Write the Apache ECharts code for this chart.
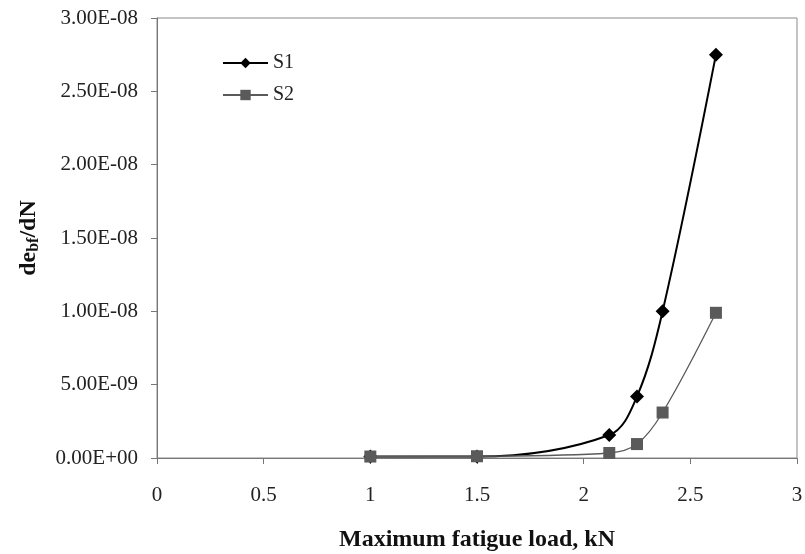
<!DOCTYPE html>
<html>
<head>
<meta charset="utf-8">
<script src="https://cdn.jsdelivr.net/npm/echarts@6/dist/echarts.min.js"></script>
<style>
  html, body { margin: 0; padding: 0; background: #fff; }
  #chart { width: 805px; height: 554px; }
</style>
</head>
<body>
<div id="chart"></div>
<script>
// data
var loads = [1.0, 1.5, 2.12, 2.25, 2.37, 2.62];
var s1 = [1.0e-10, 1.0e-10, 1.57e-9, 4.2e-9, 1.0e-8, 2.75e-8];
var s2 = [1.0e-10, 1.2e-10, 3.4e-10, 9.5e-10, 3.1e-9, 9.9e-9];

function pairs(xs, ys) {
    return xs.map(function (x, i) { return [x, ys[i]]; });
}

// 0.00E+00 style labels like Excel
function sci(v) {
    if (v === 0) return '0.00E+00';
    var e = Math.floor(Math.log10(Math.abs(v)) + 1e-9);
    var m = v / Math.pow(10, e);
    var s = m.toFixed(2);
    if (parseFloat(s) >= 10) { e += 1; s = (v / Math.pow(10, e)).toFixed(2); }
    var sign = e < 0 ? '-' : '+';
    var ea = Math.abs(e);
    return s + 'E' + sign + (ea < 10 ? '0' + ea : ea);
}

var font = 'Liberation Serif';
var myChart = echarts.init(document.getElementById('chart'));

var option = {
    backgroundColor: '#fff',
    animation: false,
    textStyle: { fontFamily: font },
    grid: {
        left: 157, right: 8, top: 18, bottom: 96,
        containLabel: false,
        outerBoundsMode: 'none',
        show: true, borderColor: '#8a8a8a', borderWidth: 1
    },
    legend: {
        orient: 'vertical',
        left: 217, top: 48,
        itemWidth: 45, itemHeight: 13, itemGap: 12,
        textStyle: { fontFamily: font, fontSize: 20, color: '#222' },
        data: ['S1', 'S2']
    },
    xAxis: {
        type: 'value',
        min: 0, max: 3, interval: 0.5,
        name: 'Maximum fatigue load, kN',
        nameLocation: 'middle',
        nameGap: 70,
        nameTextStyle: { fontFamily: font, fontSize: 24, fontWeight: 'bold', color: '#111' },
        axisLine: { lineStyle: { color: '#777', width: 1 } },
        axisTick: { show: true, inside: false, length: 6, lineStyle: { color: '#777' } },
        axisLabel: { margin: 27, fontSize: 21, color: '#222', fontFamily: font },
        splitLine: { show: false }
    },
    yAxis: {
        type: 'value',
        min: 0, max: 3e-8, interval: 5e-9,
        name: '{a|de}{b|bf}{a|/dN}',
        nameLocation: 'middle',
        nameGap: 115,
        nameTextStyle: {
            rich: {
                a: { fontFamily: font, fontSize: 24, fontWeight: 'bold', color: '#111' },
                b: { fontFamily: font, fontSize: 16, fontWeight: 'bold', color: '#111', padding: [10, 0, 0, 0] }
            }
        },
        axisLine: { show: true, lineStyle: { color: '#777', width: 1 } },
        axisTick: { show: true, inside: false, length: 6, lineStyle: { color: '#777' } },
        axisLabel: { margin: 19, fontSize: 21, color: '#222', fontFamily: font, formatter: sci },
        splitLine: { show: false }
    },
    series: [
        {
            name: 'S1',
            type: 'line',
            smooth: 0.35,
            data: pairs(loads, s1),
            symbol: 'diamond',
            symbolSize: 14,
            lineStyle: { color: '#000', width: 2 },
            itemStyle: { color: '#000' },
            z: 3
        },
        {
            name: 'S2',
            type: 'line',
            smooth: 0.35,
            data: pairs(loads, s2),
            symbol: 'rect',
            symbolSize: 12,
            lineStyle: { color: '#5a5a5a', width: 1.3 },
            itemStyle: { color: '#5a5a5a' },
            z: 4
        }
    ]
};

myChart.setOption(option);
</script>
</body>
</html>
